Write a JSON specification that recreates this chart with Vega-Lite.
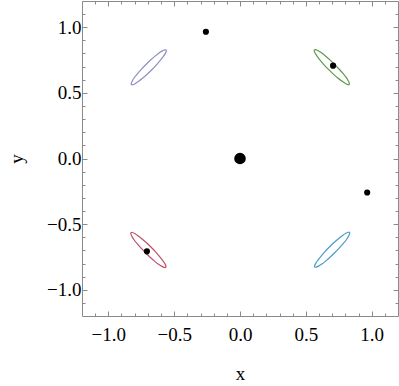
{
  "$schema": "https://vega.github.io/schema/vega-lite/v6.json",
  "width": 316,
  "height": 315,
  "autosize": {"type": "none"},
  "padding": {"left": 82, "top": 1, "right": 1, "bottom": 70},
  "config": {
    "view": {"stroke": null},
    "font": "Liberation Serif",
    "axis": {
      "domainColor": "#8a8a8a",
      "tickColor": "#8a8a8a",
      "labelFont": "Liberation Serif",
      "labelFontSize": 19,
      "labelColor": "black",
      "titleFont": "Liberation Serif",
      "titleFontSize": 19,
      "titleFontWeight": "normal",
      "titleColor": "black",
      "grid": false,
      "labelOverlap": false,
      "labelBound": false,
      "labelFlush": false
    }
  },
  "datasets": {
    "ellipses": [
      {"series": "A", "k": 0, "x": -0.561, "y": 0.827},
      {"series": "A", "k": 1, "x": -0.571, "y": 0.828},
      {"series": "A", "k": 2, "x": -0.589, "y": 0.820},
      {"series": "A", "k": 3, "x": -0.615, "y": 0.804},
      {"series": "A", "k": 4, "x": -0.645, "y": 0.780},
      {"series": "A", "k": 5, "x": -0.679, "y": 0.750},
      {"series": "A", "k": 6, "x": -0.714, "y": 0.716},
      {"series": "A", "k": 7, "x": -0.748, "y": 0.681},
      {"series": "A", "k": 8, "x": -0.778, "y": 0.647},
      {"series": "A", "k": 9, "x": -0.802, "y": 0.617},
      {"series": "A", "k": 10, "x": -0.818, "y": 0.591},
      {"series": "A", "k": 11, "x": -0.826, "y": 0.573},
      {"series": "A", "k": 12, "x": -0.825, "y": 0.563},
      {"series": "A", "k": 13, "x": -0.815, "y": 0.562},
      {"series": "A", "k": 14, "x": -0.797, "y": 0.570},
      {"series": "A", "k": 15, "x": -0.772, "y": 0.587},
      {"series": "A", "k": 16, "x": -0.741, "y": 0.611},
      {"series": "A", "k": 17, "x": -0.707, "y": 0.640},
      {"series": "A", "k": 18, "x": -0.672, "y": 0.674},
      {"series": "A", "k": 19, "x": -0.638, "y": 0.709},
      {"series": "A", "k": 20, "x": -0.609, "y": 0.743},
      {"series": "A", "k": 21, "x": -0.585, "y": 0.774},
      {"series": "A", "k": 22, "x": -0.568, "y": 0.799},
      {"series": "A", "k": 23, "x": -0.560, "y": 0.817},

      {"series": "B", "k": 0, "x": 0.829, "y": 0.564},
      {"series": "B", "k": 1, "x": 0.830, "y": 0.574},
      {"series": "B", "k": 2, "x": 0.822, "y": 0.592},
      {"series": "B", "k": 3, "x": 0.806, "y": 0.618},
      {"series": "B", "k": 4, "x": 0.782, "y": 0.648},
      {"series": "B", "k": 5, "x": 0.752, "y": 0.682},
      {"series": "B", "k": 6, "x": 0.718, "y": 0.717},
      {"series": "B", "k": 7, "x": 0.683, "y": 0.751},
      {"series": "B", "k": 8, "x": 0.649, "y": 0.781},
      {"series": "B", "k": 9, "x": 0.619, "y": 0.805},
      {"series": "B", "k": 10, "x": 0.593, "y": 0.821},
      {"series": "B", "k": 11, "x": 0.575, "y": 0.829},
      {"series": "B", "k": 12, "x": 0.565, "y": 0.828},
      {"series": "B", "k": 13, "x": 0.564, "y": 0.818},
      {"series": "B", "k": 14, "x": 0.572, "y": 0.800},
      {"series": "B", "k": 15, "x": 0.589, "y": 0.775},
      {"series": "B", "k": 16, "x": 0.613, "y": 0.744},
      {"series": "B", "k": 17, "x": 0.642, "y": 0.710},
      {"series": "B", "k": 18, "x": 0.676, "y": 0.675},
      {"series": "B", "k": 19, "x": 0.711, "y": 0.641},
      {"series": "B", "k": 20, "x": 0.745, "y": 0.612},
      {"series": "B", "k": 21, "x": 0.776, "y": 0.588},
      {"series": "B", "k": 22, "x": 0.801, "y": 0.571},
      {"series": "B", "k": 23, "x": 0.819, "y": 0.563},

      {"series": "C", "k": 0, "x": -0.564, "y": -0.829},
      {"series": "C", "k": 1, "x": -0.563, "y": -0.819},
      {"series": "C", "k": 2, "x": -0.571, "y": -0.801},
      {"series": "C", "k": 3, "x": -0.588, "y": -0.776},
      {"series": "C", "k": 4, "x": -0.612, "y": -0.745},
      {"series": "C", "k": 5, "x": -0.641, "y": -0.711},
      {"series": "C", "k": 6, "x": -0.675, "y": -0.676},
      {"series": "C", "k": 7, "x": -0.710, "y": -0.642},
      {"series": "C", "k": 8, "x": -0.744, "y": -0.613},
      {"series": "C", "k": 9, "x": -0.775, "y": -0.589},
      {"series": "C", "k": 10, "x": -0.800, "y": -0.572},
      {"series": "C", "k": 11, "x": -0.818, "y": -0.564},
      {"series": "C", "k": 12, "x": -0.828, "y": -0.565},
      {"series": "C", "k": 13, "x": -0.829, "y": -0.575},
      {"series": "C", "k": 14, "x": -0.821, "y": -0.593},
      {"series": "C", "k": 15, "x": -0.805, "y": -0.619},
      {"series": "C", "k": 16, "x": -0.781, "y": -0.649},
      {"series": "C", "k": 17, "x": -0.751, "y": -0.683},
      {"series": "C", "k": 18, "x": -0.717, "y": -0.718},
      {"series": "C", "k": 19, "x": -0.683, "y": -0.752},
      {"series": "C", "k": 20, "x": -0.649, "y": -0.782},
      {"series": "C", "k": 21, "x": -0.619, "y": -0.806},
      {"series": "C", "k": 22, "x": -0.593, "y": -0.822},
      {"series": "C", "k": 23, "x": -0.575, "y": -0.830},

      {"series": "D", "k": 0, "x": 0.832, "y": -0.563},
      {"series": "D", "k": 1, "x": 0.822, "y": -0.562},
      {"series": "D", "k": 2, "x": 0.804, "y": -0.570},
      {"series": "D", "k": 3, "x": 0.779, "y": -0.587},
      {"series": "D", "k": 4, "x": 0.748, "y": -0.611},
      {"series": "D", "k": 5, "x": 0.714, "y": -0.640},
      {"series": "D", "k": 6, "x": 0.679, "y": -0.674},
      {"series": "D", "k": 7, "x": 0.645, "y": -0.709},
      {"series": "D", "k": 8, "x": 0.616, "y": -0.743},
      {"series": "D", "k": 9, "x": 0.592, "y": -0.774},
      {"series": "D", "k": 10, "x": 0.575, "y": -0.799},
      {"series": "D", "k": 11, "x": 0.567, "y": -0.817},
      {"series": "D", "k": 12, "x": 0.568, "y": -0.827},
      {"series": "D", "k": 13, "x": 0.578, "y": -0.828},
      {"series": "D", "k": 14, "x": 0.596, "y": -0.820},
      {"series": "D", "k": 15, "x": 0.622, "y": -0.804},
      {"series": "D", "k": 16, "x": 0.652, "y": -0.780},
      {"series": "D", "k": 17, "x": 0.686, "y": -0.750},
      {"series": "D", "k": 18, "x": 0.721, "y": -0.716},
      {"series": "D", "k": 19, "x": 0.755, "y": -0.681},
      {"series": "D", "k": 20, "x": 0.785, "y": -0.647},
      {"series": "D", "k": 21, "x": 0.809, "y": -0.617},
      {"series": "D", "k": 22, "x": 0.825, "y": -0.591},
      {"series": "D", "k": 23, "x": 0.833, "y": -0.573}
    ],
    "points": [
      {"x": 0.0, "y": 0.0, "kind": "center"},
      {"x": -0.259, "y": 0.966, "kind": "sample"},
      {"x": 0.707, "y": 0.707, "kind": "sample"},
      {"x": -0.707, "y": -0.707, "kind": "sample"},
      {"x": 0.966, "y": -0.259, "kind": "sample"}
    ]
  },
  "layer": [
    {
      "data": {"name": "ellipses"},
      "mark": {"type": "line", "interpolate": "cardinal-closed", "strokeWidth": 1.2},
      "encoding": {
        "x": {
          "field": "x", "type": "quantitative",
          "scale": {"domain": [-1.2, 1.2], "nice": false, "zero": false},
          "axis": {
            "orient": "bottom",
            "title": "x",
            "values": [-1.1, -1.0, -0.9, -0.8, -0.7, -0.6, -0.5, -0.4, -0.3, -0.2, -0.1, 0.0, 0.1, 0.2, 0.3, 0.4, 0.5, 0.6, 0.7, 0.8, 0.9, 1.0, 1.1],
            "labelExpr": "abs(datum.value*2 - round(datum.value*2)) < 0.001 ? format(datum.value, '.1f') : ''",
            "tickSize": {"condition": {"test": "abs(datum.value*2 - round(datum.value*2)) < 0.001", "value": -5}, "value": -3},
            "labelPadding": 14,
            "titlePadding": 18
          }
        },
        "y": {
          "field": "y", "type": "quantitative",
          "scale": {"domain": [-1.2, 1.2], "nice": false, "zero": false},
          "axis": {
            "orient": "left",
            "title": "y",
            "values": [-1.1, -1.0, -0.9, -0.8, -0.7, -0.6, -0.5, -0.4, -0.3, -0.2, -0.1, 0.0, 0.1, 0.2, 0.3, 0.4, 0.5, 0.6, 0.7, 0.8, 0.9, 1.0, 1.1],
            "labelExpr": "abs(datum.value*2 - round(datum.value*2)) < 0.001 ? format(datum.value, '.1f') : ''",
            "tickSize": {"condition": {"test": "abs(datum.value*2 - round(datum.value*2)) < 0.001", "value": -5}, "value": -3},
            "labelPadding": 6,
            "titlePadding": 20
          }
        },
        "color": {
          "field": "series", "type": "nominal",
          "scale": {"domain": ["A", "B", "C", "D"], "range": ["#8e8ec6", "#5c9a4a", "#c0506c", "#4a9ac8"]},
          "legend": null
        },
        "order": {"field": "k", "type": "quantitative"}
      }
    },
    {
      "data": {"name": "points"},
      "mark": {"type": "circle", "opacity": 1, "color": "black"},
      "encoding": {
        "x": {
          "field": "x", "type": "quantitative",
          "axis": {
            "orient": "top", "title": null, "labels": false,
            "values": [-1.1, -1.0, -0.9, -0.8, -0.7, -0.6, -0.5, -0.4, -0.3, -0.2, -0.1, 0.0, 0.1, 0.2, 0.3, 0.4, 0.5, 0.6, 0.7, 0.8, 0.9, 1.0, 1.1],
            "tickSize": {"condition": {"test": "abs(datum.value*2 - round(datum.value*2)) < 0.001", "value": -5}, "value": -3}
          }
        },
        "y": {
          "field": "y", "type": "quantitative",
          "axis": {
            "orient": "right", "title": null, "labels": false,
            "values": [-1.1, -1.0, -0.9, -0.8, -0.7, -0.6, -0.5, -0.4, -0.3, -0.2, -0.1, 0.0, 0.1, 0.2, 0.3, 0.4, 0.5, 0.6, 0.7, 0.8, 0.9, 1.0, 1.1],
            "tickSize": {"condition": {"test": "abs(datum.value*2 - round(datum.value*2)) < 0.001", "value": -5}, "value": -3}
          }
        },
        "size": {
          "field": "kind", "type": "nominal",
          "scale": {"domain": ["center", "sample"], "range": [135, 38]},
          "legend": null
        }
      }
    }
  ],
  "resolve": {"axis": {"x": "independent", "y": "independent"}}
}
